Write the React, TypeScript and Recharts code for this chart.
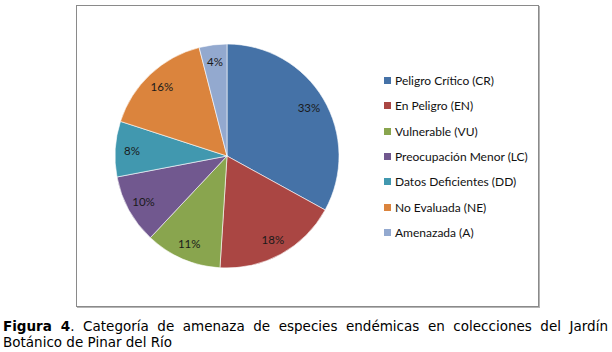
import { PieChart, Pie, Cell, Legend } from "recharts";

const categories = [
  "Peligro Crítico (CR)",
  "En Peligro (EN)",
  "Vulnerable (VU)",
  "Preocupación Menor (LC)",
  "Datos Deficientes (DD)",
  "No Evaluada (NE)",
  "Amenazada (A)",
];
const percents = [33, 18, 11, 10, 8, 16, 4];
const colors = ["#4572A7", "#AA4643", "#89A54E", "#71588F", "#4198AF", "#DB843D", "#93A9CF"];

const data = categories.map((name, i) => ({ name, value: percents[i] }));

const RADIAN = Math.PI / 180;

function renderLabel(props: any) {
  const { cx, cy, midAngle, outerRadius, value } = props;
  const r = outerRadius * 0.85;
  const x = cx + r * Math.cos(-midAngle * RADIAN);
  const y = cy + r * Math.sin(-midAngle * RADIAN);
  return (
    <text
      x={x}
      y={y}
      fill="#1a1a1a"
      fontSize={11.5}
      fontFamily="Lato, sans-serif"
      textAnchor="middle"
      dominantBaseline="central"
    >
      {`${value}%`}
    </text>
  );
}

function renderLegend(props: any) {
  // keep the series order instead of the alphabetical one
  const payload = [...props.payload].sort(
    (a: any, b: any) => categories.indexOf(a.value) - categories.indexOf(b.value)
  );
  return (
    <div>
      {payload.map((entry: any, i: number) => (
        <div
          key={i}
          style={{
            display: "flex",
            alignItems: "center",
            height: 25.3,
            fontFamily: "Lato, sans-serif",
            fontSize: 12,
            color: "#111",
            whiteSpace: "nowrap",
          }}
        >
          <span
            style={{
              display: "inline-block",
              width: 7,
              height: 7,
              background: entry.color,
              marginRight: 4,
            }}
          />
          {entry.value}
        </div>
      ))}
    </div>
  );
}

export default function App() {
  return (
    <div style={{ position: "absolute", left: 0, top: 0, width: 612, height: 352, background: "#fff" }}>
      <div
        style={{
          position: "absolute",
          left: 76,
          top: 5,
          width: 461,
          height: 300,
          border: "1px solid #8a8a8a",
          boxShadow: "1px 1px 0 #b5b5b5",
          background: "#fff",
        }}
      >
        <PieChart width={461} height={300} margin={{ top: 0, right: 0, bottom: 0, left: 0 }}>
          <Pie
            data={data}
            dataKey="value"
            nameKey="name"
            cx={150}
            cy={150}
            outerRadius={112}
            startAngle={90}
            endAngle={-270}
            stroke="#ffffff"
            strokeWidth={0.6}
            label={renderLabel}
            labelLine={false}
            isAnimationActive={false}
          >
            {data.map((_, i) => (
              <Cell key={i} fill={colors[i]} />
            ))}
          </Pie>
          <Legend
            layout="vertical"
            content={renderLegend}
            wrapperStyle={{ left: 307, top: 62, width: 150 }}
          />
        </PieChart>
      </div>
      <div
        style={{
          position: "absolute",
          left: 3,
          top: 318,
          width: 605,
          fontFamily: "Verdana, 'DejaVu Sans', sans-serif",
          fontSize: 13.5,
          lineHeight: "16px",
          textAlign: "justify",
          color: "#000",
        }}
      >
        <b>Figura 4</b>. Categoría de amenaza de especies endémicas en colecciones del Jardín Botánico de Pinar del Río
      </div>
    </div>
  );
}
